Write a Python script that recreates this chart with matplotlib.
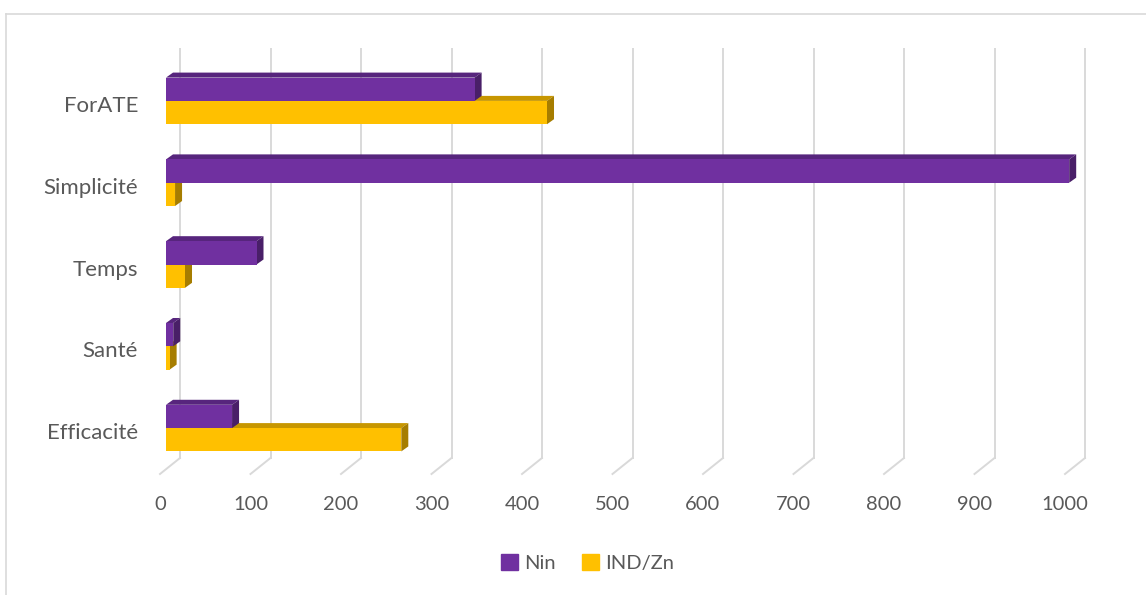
import matplotlib.pyplot as plt
from matplotlib.patches import Polygon, Rectangle
import numpy as np

categories = ['Efficacité', 'Santé', 'Temps', 'Simplicité', 'ForATE']
nin = [73, 8, 100, 998, 341]
ind_zn = [260, 4, 21, 10, 421]
series_names = ['Nin', 'IND/Zn']
xticks = [0, 100, 200, 300, 400, 500, 600, 700, 800, 900, 1000]

W, H, DPI = 1146, 595, 100
purple = '#7030A0'
gold = '#FFC000'
grid_c = '#d9d9d9'
text_c = '#595959'


def shade(c, f):
    r, g, b = [int(c[i:i + 2], 16) / 255 for i in (1, 3, 5)]
    return (r * f, g * f, b * f)


plt.rcParams['font.family'] = ['Lato', 'DejaVu Sans']
fig = plt.figure(figsize=(W / DPI, H / DPI), dpi=DPI)
ax = fig.add_axes([166 / W, (H - 469) / H, 905 / W, 409 / H])
ax.set_xlim(0, 1000)
ax.set_ylim(-0.5, 4.5)
ax.axis('off')

# pixel -> data scale
sx = 1000 / 905
sy = 5 / 409

# bar depth offset (px) and wall offsets
bdx, bdy = 7, 5
back_dx, back_dy = 14, 11
front_dx, front_dy = -6, -5

# back wall gridlines + floor diagonals
for v in xticks:
    xb = v + back_dx * sx
    ybot = -0.5 + back_dy * sy
    ytop = 4.5 + back_dy * sy
    ax.plot([xb, xb], [ybot, ytop], color=grid_c, lw=1.4, clip_on=False, zorder=1)
    ax.plot([xb, v + front_dx * sx], [ybot, -0.5 + front_dy * sy],
            color=grid_c, lw=1.4, clip_on=False, zorder=1)
    ax.text(v + front_dx * sx, -0.5 - 36 * sy, str(v), ha='center', va='center',
            fontsize=14.5, color=text_c)

bar_h = 0.285
dx = bdx * sx
dy = bdy * sy


def bar3d(x, y0, h, color, z):
    front = Rectangle((0, y0), x, h, facecolor=color, edgecolor='none', zorder=z)
    top = Polygon([(0, y0 + h), (x, y0 + h), (x + dx, y0 + h + dy), (dx, y0 + h + dy)],
                  closed=True, facecolor=shade(color, 0.78), edgecolor='none', zorder=z)
    side = Polygon([(x, y0), (x, y0 + h), (x + dx, y0 + h + dy), (x + dx, y0 + dy)],
                   closed=True, facecolor=shade(color, 0.65), edgecolor='none', zorder=z)
    for p in (top, side, front):
        ax.add_patch(p)
        p.set_clip_on(False)


for i, cat in enumerate(categories):
    bar3d(ind_zn[i], i - bar_h, bar_h, gold, 2 + i * 2)
    bar3d(nin[i], i, bar_h, purple, 3 + i * 2)
    ax.text(-28 * sx, i - 5 * sy, cat, ha='right', va='center', fontsize=16,
            color=text_c)

# legend
handles = [Rectangle((0, 0), 1, 1, color=c) for c in (purple, gold)]
leg = fig.legend(handles, series_names, loc='center', bbox_to_anchor=(588 / W, 1 - 563 / H),
                 ncol=2, frameon=False, fontsize=14.5, handlelength=0.8, handleheight=0.8,
                 handletextpad=0.35, columnspacing=1.3, labelcolor=text_c)

# chart border
fig.add_artist(plt.Line2D([6 / W, 1], [1 - 14 / H, 1 - 14 / H], color=grid_c, lw=1.2))
fig.add_artist(plt.Line2D([6 / W, 6 / W], [0, 1 - 14 / H], color=grid_c, lw=1.2))

fig.savefig('out.png', dpi=DPI)
